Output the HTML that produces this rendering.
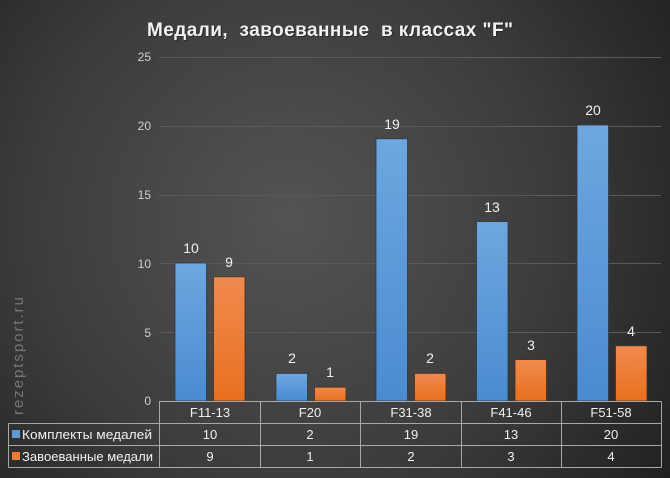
<!DOCTYPE html>
<html><head><meta charset="utf-8"><style>
html,body{margin:0;padding:0;background:#2a2a2a;}
svg{display:block;}
text{font-family:"Liberation Sans","DejaVu Sans",sans-serif;}
</style></head><body>
<svg width="670" height="478" viewBox="0 0 670 478" xmlns="http://www.w3.org/2000/svg">
<defs>
<radialGradient id="bg" cx="290" cy="220" r="470" gradientUnits="userSpaceOnUse">
<stop offset="0" stop-color="#545454"/>
<stop offset="0.55" stop-color="#3c3c3c"/>
<stop offset="1" stop-color="#1f1f1f"/>
</radialGradient>
<linearGradient id="bl" x1="0" y1="0" x2="0" y2="1">
<stop offset="0" stop-color="#6ea7df"/>
<stop offset="1" stop-color="#4a8bd0"/>
</linearGradient>
<linearGradient id="or" x1="0" y1="0" x2="0" y2="1">
<stop offset="0" stop-color="#f08a4e"/>
<stop offset="1" stop-color="#e8701f"/>
</linearGradient>
</defs>
<rect width="670" height="478" fill="url(#bg)"/>

<!-- title -->
<text x="147" y="36" font-size="19" font-weight="bold" fill="#1a1a1a" textLength="366" lengthAdjust="spacing" style="white-space:pre" opacity="0.6" transform="translate(1,1)">Медали,  завоеванные  в классах "F"</text>
<text x="147" y="36" font-size="19" font-weight="bold" fill="#f2f2f2" textLength="366" lengthAdjust="spacing" style="white-space:pre">Медали,  завоеванные  в классах "F"</text>

<!-- gridlines -->
<g stroke="#5a5a5a" stroke-width="1">
<line x1="159" y1="57.5" x2="661" y2="57.5"/>
<line x1="159" y1="126.5" x2="661" y2="126.5"/>
<line x1="159" y1="195.5" x2="661" y2="195.5"/>
<line x1="159" y1="263.5" x2="661" y2="263.5"/>
<line x1="159" y1="332.5" x2="661" y2="332.5"/>
</g>
<g font-size="12" fill="#cfcfcf" text-anchor="end">
<text x="151" y="61">25</text>
<text x="151" y="130">20</text>
<text x="151" y="199">15</text>
<text x="151" y="268">10</text>
<text x="151" y="337">5</text>
<text x="151" y="405">0</text>
</g>

<!-- bars -->
<g stroke="#2f3a44" stroke-width="0.8">
<rect x="175" y="263" width="31.5" height="138" fill="url(#bl)"/>
<rect x="276" y="373.4" width="31.5" height="27.6" fill="url(#bl)"/>
<rect x="376" y="138.8" width="31.5" height="262.2" fill="url(#bl)"/>
<rect x="476.5" y="221.6" width="31.5" height="179.4" fill="url(#bl)"/>
<rect x="577" y="125" width="31.5" height="276" fill="url(#bl)"/>
</g>
<g stroke="#4a3020" stroke-width="0.8">
<rect x="213.5" y="276.8" width="31.5" height="124.2" fill="url(#or)"/>
<rect x="314.5" y="387.2" width="31.5" height="13.8" fill="url(#or)"/>
<rect x="414.5" y="373.4" width="31.5" height="27.6" fill="url(#or)"/>
<rect x="515" y="359.6" width="31.5" height="41.4" fill="url(#or)"/>
<rect x="615.5" y="345.8" width="31.5" height="55.2" fill="url(#or)"/>
</g>

<!-- value labels -->
<g font-size="14" fill="#f0f0f0" text-anchor="middle">
<text x="191" y="253">10</text>
<text x="229" y="267">9</text>
<text x="292" y="363">2</text>
<text x="330" y="377">1</text>
<text x="392" y="129">19</text>
<text x="430" y="363">2</text>
<text x="492" y="212">13</text>
<text x="531" y="350">3</text>
<text x="593" y="115">20</text>
<text x="631" y="336">4</text>
</g>

<!-- table -->
<g stroke="#a8a8a8" stroke-width="1" fill="none">
<line x1="159" y1="401.5" x2="661.5" y2="401.5"/>
<line x1="8.5" y1="423.5" x2="661.5" y2="423.5"/>
<line x1="8.5" y1="445.5" x2="661.5" y2="445.5"/>
<line x1="8.5" y1="467.5" x2="661.5" y2="467.5"/>
<line x1="8.5" y1="423.5" x2="8.5" y2="467.5"/>
<line x1="159.5" y1="401.5" x2="159.5" y2="467.5"/>
<line x1="260.5" y1="401.5" x2="260.5" y2="467.5"/>
<line x1="360.5" y1="401.5" x2="360.5" y2="467.5"/>
<line x1="461.5" y1="401.5" x2="461.5" y2="467.5"/>
<line x1="561.5" y1="401.5" x2="561.5" y2="467.5"/>
<line x1="661.5" y1="401.5" x2="661.5" y2="467.5"/>
</g>
<g font-size="13" fill="#f0f0f0" text-anchor="middle">
<text x="210" y="417">F11-13</text>
<text x="310" y="417">F20</text>
<text x="411" y="417">F31-38</text>
<text x="511" y="417">F41-46</text>
<text x="611" y="417">F51-58</text>
<text x="210" y="439">10</text>
<text x="310" y="439">2</text>
<text x="411" y="439">19</text>
<text x="511" y="439">13</text>
<text x="611" y="439">20</text>
<text x="210" y="461">9</text>
<text x="310" y="461">1</text>
<text x="411" y="461">2</text>
<text x="511" y="461">3</text>
<text x="611" y="461">4</text>
</g>
<rect x="12" y="430" width="8" height="8" fill="#5b9bd5"/>
<rect x="12" y="452" width="8" height="8" fill="#ed7d31"/>
<text x="22" y="439" font-size="13" fill="#f0f0f0" textLength="130" lengthAdjust="spacingAndGlyphs">Комплекты медалей</text>
<text x="22" y="461" font-size="13" fill="#f0f0f0" textLength="131" lengthAdjust="spacingAndGlyphs">Завоеванные медали</text>

<!-- watermark -->
<text transform="translate(23,415) rotate(-90)" font-size="15" fill="#767676" textLength="118" lengthAdjust="spacing">rezeptsport.ru</text>
</svg>
</body></html>
